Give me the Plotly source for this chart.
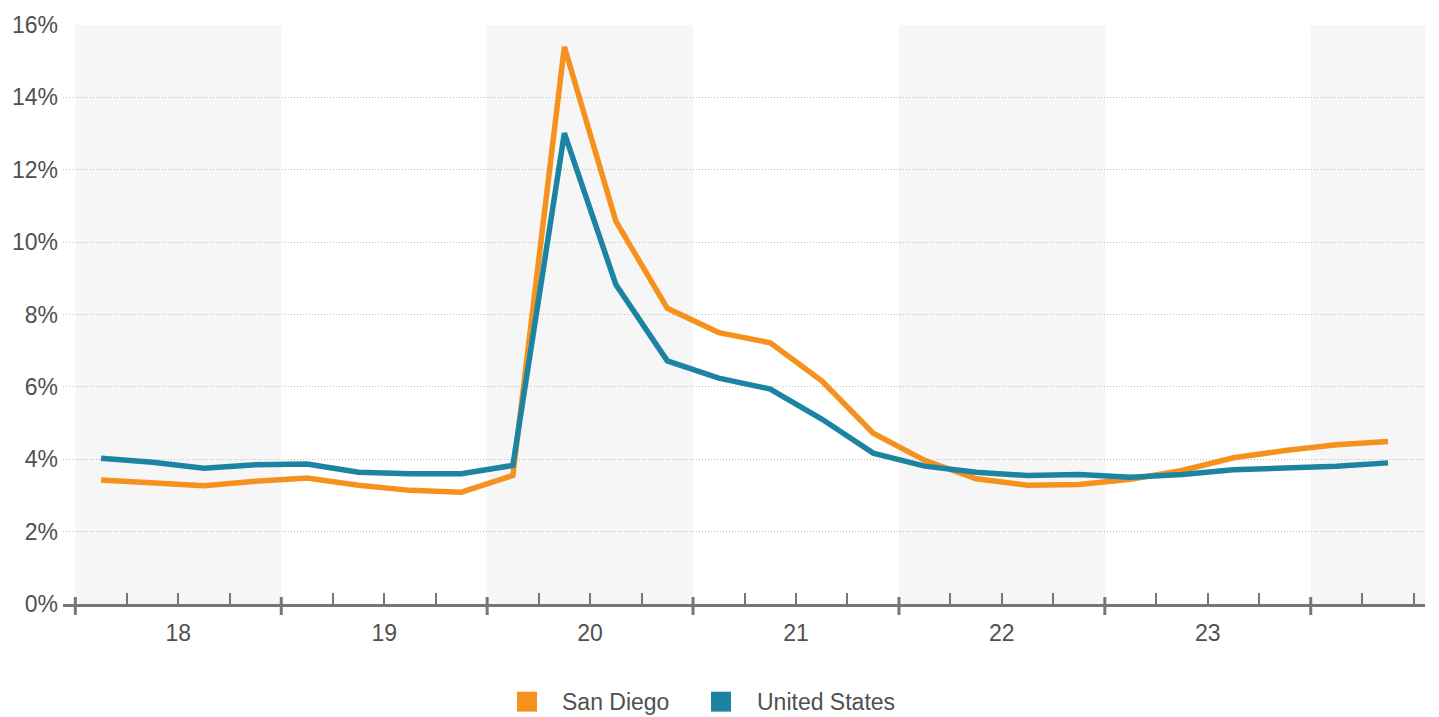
import plotly.graph_objects as go

# Quarterly unemployment rate, 2018 Q1 – 2024 Q2 (percent)
years = [2018, 2019, 2020, 2021, 2022, 2023, 2024]
year_labels = ["18", "19", "20", "21", "22", "23"]
quarters = [f"{y} Q{q}" for y in years for q in range(1, 5)][:26]

series_names = ["San Diego", "United States"]
san_diego = [3.43, 3.36, 3.27, 3.39, 3.48, 3.28, 3.14, 3.09, 3.55, 15.40,
             10.58, 8.17, 7.50, 7.22, 6.17, 4.72, 3.97, 3.46, 3.28, 3.30,
             3.45, 3.69, 4.04, 4.24, 4.40, 4.49]
united_states = [4.03, 3.92, 3.75, 3.85, 3.87, 3.64, 3.60, 3.60, 3.83, 13.01,
                 8.83, 6.72, 6.24, 5.94, 5.11, 4.17, 3.81, 3.64, 3.55, 3.58,
                 3.50, 3.58, 3.71, 3.75, 3.81, 3.90]

ORANGE = "#F5921E"
BLUE = "#1C84A2"
AXIS = "#767676"
TEXT = "#505050"
colors = [ORANGE, BLUE]

W, H = 1439, 717
ML, MR, MT, MB = 63, 14, 23, 113
plot_w = W - ML - MR


# position of each quarter on a numeric axis: one unit per quarter
def qpos(label):
    y, q = label.split(" Q")
    return (int(y) - years[0]) * 4 + int(q) - 1


x = [qpos(q) for q in quarters]
x_min, x_max = -0.74, 25.72

fig = go.Figure()
for name, vals, col in zip(series_names, [san_diego, united_states], colors):
    fig.add_trace(go.Scatter(x=x, y=vals, mode="lines", name=name,
                             line=dict(color=col, width=5.5), showlegend=False,
                             hovertext=quarters))

shapes = []
annotations = []
# alternating year bands
for k, yr in enumerate(years):
    if k % 2 == 0:
        x0 = k * 4 - 0.5
        x1 = min(k * 4 + 3.5, x_max)
        shapes.append(dict(type="rect", xref="x", yref="y", x0=x0, x1=x1,
                           y0=0, y1=16, fillcolor="#f6f6f6", line=dict(width=0),
                           layer="below"))
# year boundary ticks crossing the axis line
for k in range(len(years)):
    xb = k * 4 - 0.5
    if xb <= x_max:
        shapes.append(dict(type="line", xref="x", yref="paper", ysizemode="pixel",
                           yanchor=0, x0=xb, x1=xb, y0=-11, y1=7,
                           line=dict(color=AXIS, width=3)))

# legend below the plot: colour square followed by series name
legend_items = [(517, 560), (711, 755)]   # pixel x of swatch and of label
legend_y = 702                             # pixel y of row centre
for (sx, tx), name, col in zip(legend_items, series_names, colors):
    shapes.append(dict(type="rect", xref="paper", yref="paper",
                       x0=(sx - ML) / plot_w, x1=(sx + 20 - ML) / plot_w,
                       y0=(H - MB - legend_y - 10) / (H - MT - MB),
                       y1=(H - MB - legend_y + 10) / (H - MT - MB),
                       fillcolor=col, line=dict(width=0)))
    annotations.append(dict(xref="paper", yref="paper", x=(tx - ML) / plot_w,
                            y=(H - MB - legend_y) / (H - MT - MB),
                            xanchor="left", yanchor="middle", showarrow=False,
                            text=name, font=dict(size=23, color=TEXT)))

quarter_bounds = [i - 0.5 for i in range(0, 27) if i % 4 != 0 and i - 0.5 <= x_max]

fig.update_layout(
    width=W, height=H,
    margin=dict(l=ML, r=MR, t=MT, b=MB),
    paper_bgcolor="white", plot_bgcolor="white",
    font=dict(family="Liberation Sans, Arial, sans-serif", size=23, color=TEXT),
    shapes=shapes,
    annotations=annotations,
    showlegend=False,
    xaxis=dict(range=[x_min, x_max], showgrid=False, zeroline=False,
               showline=True, linecolor=AXIS, linewidth=3,
               tickmode="array",
               tickvals=[k * 4 + 1.5 for k in range(len(year_labels))],
               ticktext=year_labels, ticks="", ticklabelstandoff=6,
               tickfont=dict(size=23, color=TEXT),
               minor=dict(tickmode="array", tickvals=quarter_bounds,
                          ticks="inside", ticklen=11, tickwidth=2,
                          tickcolor=AXIS, showgrid=False)),
    yaxis=dict(range=[0, 16], tickmode="array", tickvals=list(range(0, 17, 2)),
               ticktext=[f"{v}%" for v in range(0, 17, 2)],
               showgrid=True, gridcolor="#bdbdbd", griddash="1px,2px", gridwidth=1,
               zeroline=False, showline=False, ticks="",
               tickfont=dict(size=23, color=TEXT), ticklabelstandoff=4),
)

fig.write_html("out.html")
